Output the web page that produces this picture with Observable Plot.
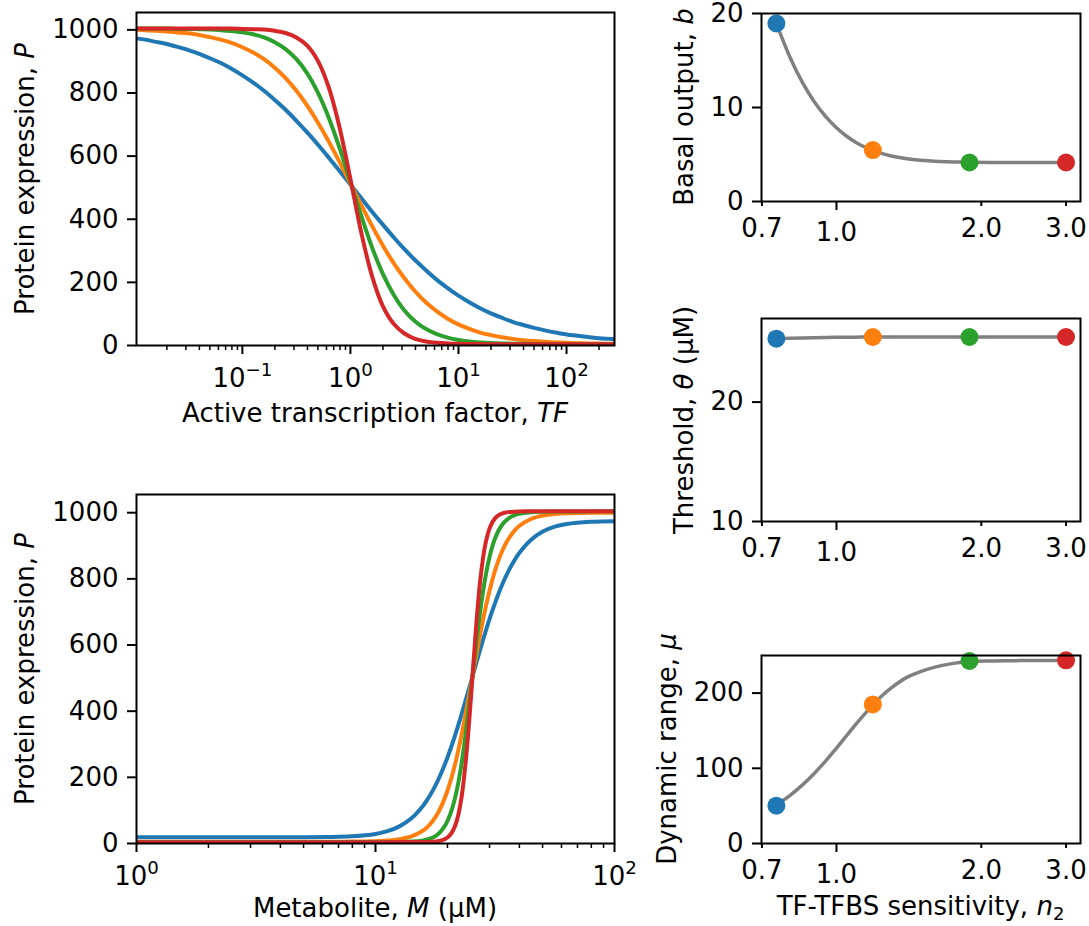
<!DOCTYPE html>
<html><head><meta charset="utf-8">
<script src="https://cdn.jsdelivr.net/npm/d3@7"></script>
<script src="https://cdn.jsdelivr.net/npm/@observablehq/plot@0.6"></script>
<style>
body{margin:0;background:#fff;}
#fig{position:relative;width:1089px;height:926px;font-family:"DejaVu Sans",sans-serif;font-size:26px;color:#000;background:#fff;overflow:hidden;}
#fig svg{position:absolute;overflow:visible;}
.lab{position:absolute;white-space:nowrap;line-height:1;}
.sub{font-size:18px;position:relative;top:5px;}
</style></head><body><div id="fig"></div>
<script>
// ---------- data ----------
const seriesNames = ["n2 = 0.75", "n2 = 1.19", "n2 = 1.89", "n2 = 3.0"];
const seriesColors = ["#1f77b4", "#ff7f0e", "#2ca02c", "#d62728"];

// top-left: protein expression vs active TF
const tf = [0.01047,0.01259,0.01585,0.01995,0.02512,0.03162,0.03981,0.05012,0.0631,0.07943,0.1,0.1259,0.1585,0.1995,0.2512,0.3162,0.3981,0.5012,0.631,0.7943,1,1.259,1.585,1.995,2.512,3.162,3.981,5.012,6.31,7.943,10,12.59,15.85,19.95,25.12,31.62,39.81,50.12,63.1,79.43,100,125.9,158.5,199.5,251.2,278];
const tfBlue = [973,969,962,955,946,936,924,910,895,877,856,833,807,778,747,712,675,636,595,553,510,467,424,383,343,305,270,238,208,182,158,137,118,102,88,75,65,56,48,41,35,31,27,23,21,20];
const tfOrange = [1000,999,997,995,992,989,984,977,969,959,945,928,907,880,847,807,760,706,646,581,513,445,379,317,261,213,171,136,108,85,67,53,41,33,26,21,17,14,11.6,9.8,8.5,7.4,6.6,6.1,5.6,5.4];
const tfGreen = [1004,1004,1004,1004,1003,1003,1002,1001,999,996,992,986,976,961,939,907,862,800,721,625,518,411,311,227,161,111,76,52,36,25,17.6,12.9,9.8,7.8,6.5,5.7,5.2,4.8,4.6,4.4,4.3,4.3,4.2,4.2,4.2,4.2];
const tfRed = [1004,1004,1004,1004,1004,1004,1004,1004,1004,1004,1003,1002,1001,997,990,976,950,901,817,690,527,358,220,125,69,38,21,12.8,8.5,6.3,5.2,4.7,4.4,4.3,4.2,4.2,4.2,4.2,4.2,4.2,4.2,4.2,4.2,4.2,4.2,4.2];

// bottom-left: protein expression vs metabolite
const metabolite = [1,1.585,2.512,3.981,6.31,7.943,10,11.22,12.59,14.13,15.85,16.6,17.38,18.2,19.05,19.95,20.89,21.88,22.91,23.99,25.12,26.3,27.54,28.84,30.2,31.62,33.11,34.67,36.31,38.02,39.81,44.67,50.12,56.23,63.1,79.43,100];
const mBlue = [18.9,18.9,18.9,19.0,19.6,21.6,28.8,37.2,51.8,76.2,115.2,136.1,160.5,188.9,221.3,257.9,298.5,342.8,390.3,440.1,489.7,540.8,591.0,639.2,684.7,726.7,764.7,798.8,828.6,854.4,876.6,917.4,942.8,957.7,965.8,972.6,974.4];
const mOrange = [5.4,5.4,5.4,5.4,5.5,5.8,7.1,8.8,12.7,21.2,39.7,52.0,68.7,90.8,119.8,157.1,204.1,261.1,328.1,403.3,481.3,562.2,639.8,710.8,772.6,824.6,866.5,899.6,925.0,944.4,958.9,980.9,991.1,995.9,998.2,999.8,1000.2];
const mGreen = [4.2,4.2,4.2,4.2,4.2,4.2,4.2,4.4,4.7,5.7,9.4,12.8,18.3,27.3,42.2,66.1,103.7,160.4,241.2,347.3,468.0,595.5,711.8,805.7,874.7,921.9,952.6,972.2,984.3,991.7,996.3,1001.5,1003.1,1003.6,1003.8,1004.0,1004.0];
const mRed = [4.15,4.15,4.15,4.15,4.15,4.15,4.15,4.15,4.16,4.2,4.4,4.7,5.3,6.8,10.0,17.4,33.6,68.5,139.4,267.1,446.8,646.8,806.8,905.8,957.8,982.9,994.4,999.7,1002.1,1003.2,1003.7,1004.1,1004.1,1004.1,1004.1,1004.1,1004.1];

// right: fitted parameters vs TF-TFBS sensitivity n2
const n2Curve = [0.75,0.8,0.85,0.9,0.95,1.0,1.05,1.1,1.15,1.19,1.25,1.3,1.4,1.5,1.6,1.75,1.89,2.1,2.4,2.7,3.0];
const basalCurve = [18.94,15.37,12.65,10.59,9.03,7.84,6.94,6.26,5.75,5.43,5.06,4.84,4.54,4.38,4.28,4.21,4.18,4.16,4.15,4.15,4.15];
const thresholdCurve = [25.31,25.34,25.37,25.39,25.41,25.42,25.43,25.44,25.45,25.45,25.45,25.45,25.45,25.45,25.45,25.45,25.45,25.45,25.45,25.45,25.45];
const dynamicCurve = [51.4,63.8,77.9,93.4,109.9,126.9,143.6,159.5,173.8,184.2,197.9,207.0,220.9,229.0,234.5,239.5,242.0,242.8,243.2,243.4,243.5];
const n2Points = [0.75, 1.19, 1.89, 3.0];
const basalPoints = [18.94, 5.47, 4.15, 4.15];
const thresholdPoints = [25.31, 25.45, 25.45, 25.45];
const dynamicPoints = [50.3, 185, 242.7, 243.6];

// ticks
const pTicks = [0, 200, 400, 600, 800, 1000];
const tfMajor = [0.1, 1, 10, 100];
const tfMinor = [0.02,0.03,0.04,0.05,0.06,0.07,0.08,0.09,0.2,0.3,0.4,0.5,0.6,0.7,0.8,0.9,2,3,4,5,6,7,8,9,20,30,40,50,60,70,80,90,200];
const mMajor = [1, 10, 100];
const mMinor = [2,3,4,5,6,7,8,9,20,30,40,50,60,70,80,90];
const nMajor = [1.0];
const nMinor = [0.7, 2.0, 3.0];
const basalTicks = [0, 10, 20];
const thresholdTicks = [10, 20];
const dynamicTicks = [0, 100, 200];

// ---------- drawing ----------
const fig = document.getElementById("fig");
const FONT = "DejaVu Sans";
const rows = (xs, ys) => xs.map((x, i) => ({x, y: ys[i]}));
const pow10 = d => "10^" + Math.round(Math.log10(d));
const fixed1 = d => d.toFixed(1);
const plain = d => String(d);
const blank = () => "";

function applySup(svg) {
  svg.querySelectorAll("text").forEach(t => {
    const s = t.textContent;
    if (!s.includes("^")) return;
    const [b, e] = s.split("^");
    t.textContent = b;
    const ts = document.createElementNS("http://www.w3.org/2000/svg", "tspan");
    ts.setAttribute("dy", "-11");
    ts.setAttribute("font-size", "18.2");
    ts.textContent = e.replace("-", "\u2212");
    t.appendChild(ts);
  });
}

function panel(o) {
  const svg = Plot.plot({
    width: o.width, height: o.height,
    marginTop: o.mt, marginRight: o.mr, marginBottom: o.mb, marginLeft: o.ml,
    style: {background: "transparent", overflow: "visible", fontSize: "26px", fontFamily: FONT, color: "black"},
    x: {type: "log", domain: o.xdomain},
    y: {domain: o.ydomain},
    color: {type: "identity"},
    marks: [
      ...o.marks,
      Plot.frame({stroke: "black", strokeWidth: 2}),
      ...o.axes
    ]
  });
  svg.style.left = o.left + "px";
  svg.style.top = o.top + "px";
  applySup(svg);
  fig.appendChild(svg);
}

function curves(xs, ys) {
  return ys.map((y, k) => Plot.line(rows(xs, y), {x: "x", y: "y", stroke: seriesColors[k], strokeWidth: 4, curve: "catmull-rom", clip: true}));
}
function yAxis(ticks) {
  return Plot.axisY(ticks, {tickSize: 9, tickPadding: 9, tickFormat: plain, strokeWidth: 2, label: null, fontSize: 26});
}
// x axis with explicit label text (log tickFormat would thin out labels)
function xAxis(ticks, size, pad, fmt, width) {
  return Plot.axisX(ticks, {tickSize: size, tickPadding: pad, text: fmt, strokeWidth: width, label: null, fontSize: 26});
}

// top-left
panel({
  left: 0, top: 0, width: 640, height: 380, mt: 12, mr: 26, mb: 35, ml: 136,
  xdomain: [0.01047, 278], ydomain: [0, 1055],
  marks: curves(tf, [tfBlue, tfOrange, tfGreen, tfRed]),
  axes: [
    yAxis(pTicks),
    xAxis(tfMajor, 9, 14, pow10, 2),
    xAxis(tfMinor, 5, 0, blank, 1.5)
  ]
});

// bottom-left
panel({
  left: 0, top: 460, width: 640, height: 420, mt: 34, mr: 26, mb: 37, ml: 136,
  xdomain: [1, 100], ydomain: [0, 1055],
  marks: curves(metabolite, [mBlue, mOrange, mGreen, mRed]),
  axes: [
    yAxis(pTicks),
    xAxis(mMajor, 9, 14, pow10, 2),
    xAxis(mMinor, 5, 0, blank, 1.5)
  ]
});

function rightPanel(top, height, mt, mb, ydomain, yticks, curveY, pointsY) {
  panel({
    left: 640, top, width: 449, height, mt, mr: 9, mb, ml: 121,
    xdomain: [0.6985, 3.215], ydomain,
    marks: [
      Plot.line(rows(n2Curve, curveY), {x: "x", y: "y", stroke: "#808080", strokeWidth: 3.5, curve: "catmull-rom", clip: true}),
      Plot.dot(n2Points.map((x, i) => ({x, y: pointsY[i], c: seriesColors[i]})), {x: "x", y: "y", r: 9, fill: "c"})
    ],
    axes: [
      yAxis(yticks),
      xAxis(nMajor, 9, 12, fixed1, 2),
      xAxis(nMinor, 5, 12, fixed1, 2)
    ]
  });
}
rightPanel(0, 240, 13, 39, [0, 20], basalTicks, basalCurve, basalPoints);
rightPanel(280, 290, 38, 49, [10, 27], thresholdTicks, thresholdCurve, thresholdPoints);
rightPanel(620, 270, 35, 47, [0, 250], dynamicTicks, dynamicCurve, dynamicPoints);

// axis titles
function label(html, cx, cy, rotate) {
  const d = document.createElement("div");
  d.className = "lab";
  d.innerHTML = html;
  d.style.left = cx + "px";
  d.style.top = cy + "px";
  d.style.transform = "translate(-50%,-50%)" + (rotate ? " rotate(-90deg)" : "");
  fig.appendChild(d);
}
label("Protein expression, <i>P</i>", 24.5, 178.5, true);
label("Protein expression, <i>P</i>", 24.5, 668.5, true);
label("Active transcription factor, <i>TF</i>", 375, 413, false);
label("Metabolite, <i>M</i> (μM)", 375, 908, false);
label("Basal output, <i>b</i>", 684, 106.7, true);
label("Threshold, <i>θ</i> (μM)", 684, 419.5, true);
label("Dynamic range, <i>μ</i>", 667, 749, true);
label("TF-TFBS sensitivity, <i>n</i><span class=\"sub\">2</span>", 920.5, 906, false);
</script></body></html>
